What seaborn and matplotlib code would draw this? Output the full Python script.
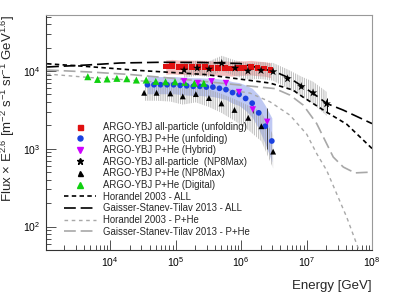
import numpy as np
import pandas as pd
import matplotlib
matplotlib.use('Agg')
import matplotlib.pyplot as plt
import seaborn as sns
from matplotlib.lines import Line2D
from matplotlib.ticker import LogLocator, NullFormatter, FixedLocator, FixedFormatter

sns.set_style('ticks')
plt.rcParams['font.family'] = ['Liberation Sans', 'DejaVu Sans']
plt.rcParams['mathtext.fontset'] = 'custom'
plt.rcParams['mathtext.rm'] = 'Liberation Sans'
plt.rcParams['mathtext.it'] = 'Liberation Sans:italic'
plt.rcParams['mathtext.bf'] = 'Liberation Sans:bold'
plt.rcParams['hatch.linewidth'] = 0.45
plt.rcParams['lines.scale_dashes'] = False

# ---------------- data ----------------
# ARGO-YBJ all-particle (unfolding)
red_E = [70800, 89100, 112000, 141000, 178000, 224000, 282000, 355000, 447000,
         562000, 708000, 891000, 1120000, 1410000, 1780000, 2240000, 2820000]
red_F = [11400, 11600, 11300, 11300, 11300, 11200, 11200, 11000, 11000,
         11000, 10800, 11000, 11000, 11200, 10900, 10800, 10300]
red_hi = [13900, 14100, 13800, 13800, 13800, 13700, 13700, 13500, 13500,
          13500, 13300, 13500, 13500, 13700, 13400, 13200, 12700]
red_lo = [9100, 9200, 9000, 9000, 9000, 8900, 8900, 8800, 8800,
          8800, 8600, 8800, 8800, 8900, 8700, 8600, 8200]

# ARGO-YBJ P+He (unfolding)
blue_E = [37150, 46770, 58880, 74130, 93330, 117500, 147900, 186200, 234400, 295100,
          371500, 467700, 588800, 741300, 933300, 1175000, 1479000, 1862000, 2344000, 2951000]
blue_F = [6660, 6660, 6660, 6660, 6660, 6530, 6450, 6350, 6350, 6220,
          6220, 5990, 5770, 5280, 5000, 4440, 3860, 2900, 1950, 1260]
blue_hi = [8500, 8500, 8500, 8500, 8500, 8400, 8300, 8200, 8200, 8100,
           8100, 7900, 7700, 7300, 7100, 6600, 6000, 4900, 3600, 2500]
blue_lo = [5100, 5100, 5100, 5100, 5100, 5000, 4900, 4850, 4850, 4750,
           4700, 4500, 4300, 3850, 3600, 3100, 2550, 1800, 1150, 680]

# ARGO-YBJ P+He (Hybrid)
mag_E = [135000, 219000, 355000, 589000, 933000, 1510000, 2510000]
mag_F = [7360, 7000, 7360, 7000, 5360, 3200, 2220]
mag_lo = [6900, 6550, 6900, 6550, 4900, 2900, 1000]
mag_hi = [7850, 7450, 7850, 7450, 5850, 3500, 3300]

# ARGO-YBJ all-particle (NP8Max)
star_E = [135000, 214000, 324000, 507000, 813000, 1274000, 2018000, 3090000,
          5130000, 8320000, 12590000, 20320000]
star_F = [10300, 10900, 10600, 12600, 10900, 10000, 10150, 9800, 7960, 6310, 5250, 3790]
star_hi = [12800, 13600, 13300, 15700, 13700, 12700, 13000, 12700, 10500, 8500, 7300, 5400]
star_lo = [8200, 8700, 8400, 10000, 8600, 7800, 7900, 7500, 6000, 4700, 3800, 2650]
star_elo = [10000, 10600, 10300, 12200, 10600, 9700, 9850, 9500, 7700, 6050, 4950, 2900]
star_ehi = [10600, 11200, 10900, 13000, 11200, 10300, 10450, 10100, 8250, 6600, 5550, 4500]

# ARGO-YBJ P+He (NP8Max)
tri_E = [33110, 51290, 83180, 128800, 204200, 323600, 501200, 794300, 1288000, 2042000, 3090000]
tri_F = [5250, 5250, 5150, 4720, 5050, 4490, 3830, 3160, 2500, 1950, 920]
tri_hi = [6600, 6600, 6500, 6000, 6400, 5800, 5100, 4350, 3600, 3000, 1500]
tri_lo = [4150, 4150, 4050, 3700, 3950, 3450, 2900, 2300, 1750, 1250, 560]

# ARGO-YBJ P+He (Digital)
grn_E = [4570, 6440, 9000, 12700, 18000, 25200, 35600, 49900, 70300, 98200, 138000, 194000, 270000]
grn_F = [8450, 7800, 7900, 8050, 7960, 7660, 7660, 7360, 7280, 7280, 7150, 6950, 6950]
grn_err = [0, 0, 0, 0, 0, 0, 0, 0, 0, 250, 300, 450, 500]

# Model curves (read at points along the curves)
hor_all_E = [1090, 4460, 28700, 282000, 2770000, 6220000, 8850000, 20300000, 41100000, 100000000]
hor_all_F = [12400, 11430, 10150, 9020, 7000, 5690, 4620, 2960, 2070, 1010]

gst_all_E = [1090, 4460, 14200, 57900, 237000, 966000, 3300000, 5600000, 12700000, 20300000, 36500000, 100000000]
gst_all_F = [11270, 11950, 12680, 12950, 12880, 12490, 9790, 8050, 5150, 3830, 3140, 2110]

hor_phe_E = [1090, 4950, 20200, 82400, 336000, 1370000, 2770000, 5600000, 10070000,
             14300000, 20300000, 28900000, 41100000, 58300000, 65600000]
hor_phe_F = [9150, 8240, 7650, 7000, 6220, 5200, 4020, 2700, 1540, 867, 528, 264, 132, 59.8, 46]

gst_phe_E = [1090, 4950, 20200, 82400, 336000, 1370000, 3300000, 5600000, 8930000,
             14300000, 25600000, 36500000, 54900000, 100000000]
gst_phe_F = [10300, 9710, 9020, 8120, 7220, 6400, 5940, 4900, 3640, 2110, 783, 582, 490, 502]

legend_labels = ['ARGO-YBJ all-particle (unfolding)', 'ARGO-YBJ P+He (unfolding)',
                 'ARGO-YBJ P+He (Hybrid)', 'ARGO-YBJ all-particle  (NP8Max)',
                 'ARGO-YBJ P+He (NP8Max)', 'ARGO-YBJ P+He (Digital)',
                 'Horandel 2003 - ALL', 'Gaisser-Stanev-Tilav 2013 - ALL',
                 'Horandel 2003 - P+He', 'Gaisser-Stanev-Tilav 2013 - P+He']

# ---------------- figure ----------------
fig = plt.figure(figsize=(4.07, 2.94), dpi=100)
ax = fig.add_axes([46/407, 1-250/294, (372-46)/407, (250-15)/294])
ax.set_xscale('log')
ax.set_yscale('log')

c_red = '#e01010'
c_blue = '#1a40e0'
c_mag = '#d000ff'
c_grn = '#10d010'
c_gray = '#a8a8a8'
c_hatch = '#a0a0a0'

# bands
ax.fill_between(red_E, red_lo, red_hi, color='#f0b0b0', alpha=0.8, lw=0, zorder=1)
ax.fill_between(blue_E, blue_lo, blue_hi, color='#b0bcf0', alpha=0.8, lw=0, zorder=1)
ax.fill_between(tri_E, tri_lo, tri_hi, facecolor='none', edgecolor=c_hatch,
                hatch='|||||||||', lw=0, zorder=2)
ax.fill_between(star_E, star_lo, star_hi, facecolor='none', edgecolor=c_hatch,
                hatch='|||||||||', lw=0, zorder=2)

# model curves
curves = [
    (hor_all_E, hor_all_F, 'k', 1.2, (0, (3.2, 2.4))),
    (gst_all_E, gst_all_F, 'k', 1.2, (0, (8.5, 3.5))),
    (hor_phe_E, hor_phe_F, c_gray, 1.0, (0, (2.6, 2.6))),
    (gst_phe_E, gst_phe_F, c_gray, 1.2, (0, (8.5, 3.5))),
]
for cE, cF, col, lw, ls in curves:
    df = pd.DataFrame({'E': cE, 'F': cF})
    sns.lineplot(data=df, x='E', y='F', ax=ax, color=col, lw=lw, linestyle=ls,
                 sort=False, estimator=None, zorder=3)

# error bars
ax.errorbar(mag_E, mag_F, yerr=[np.array(mag_F) - np.array(mag_lo), np.array(mag_hi) - np.array(mag_F)],
            fmt='none', ecolor='#404040', elinewidth=0.7, zorder=4)
ax.errorbar(star_E, star_F, yerr=[np.array(star_F) - np.array(star_elo), np.array(star_ehi) - np.array(star_F)],
            fmt='none', ecolor='k', elinewidth=0.7, zorder=4)
ax.errorbar(grn_E, grn_F, yerr=grn_err, fmt='none', ecolor=c_grn, elinewidth=0.7, zorder=4)

# points
sns.scatterplot(x=red_E, y=red_F, ax=ax, marker='s', color=c_red, s=17, edgecolor='none', zorder=5)
sns.scatterplot(x=star_E, y=star_F, ax=ax, marker='*', color='k', s=40, edgecolor='none', zorder=6)
sns.scatterplot(x=blue_E, y=blue_F, ax=ax, marker='o', color=c_blue, s=17, edgecolor='none', zorder=6)
sns.scatterplot(x=tri_E, y=tri_F, ax=ax, marker='^', color='k', s=18, edgecolor='none', zorder=6)
sns.scatterplot(x=mag_E, y=mag_F, ax=ax, marker='v', color=c_mag, s=22, edgecolor='none', zorder=7)
sns.scatterplot(x=grn_E, y=grn_F, ax=ax, marker='^', color=c_grn, s=26, edgecolor='none', zorder=6)

ax.set_xlim(1050, 1e8)
ax.set_ylim(50, 52500)

# ticks
ax.xaxis.set_major_locator(FixedLocator([1e4, 1e5, 1e6, 1e7, 1e8]))
ax.xaxis.set_major_formatter(FixedFormatter([r'$10^{4}$', r'$10^{5}$', r'$10^{6}$', r'$10^{7}$', r'$10^{8}$']))
ax.xaxis.set_minor_locator(LogLocator(base=10, subs=np.arange(2, 10), numticks=20))
ax.xaxis.set_minor_formatter(NullFormatter())
ax.yaxis.set_major_locator(FixedLocator([1e2, 1e3, 1e4]))
ax.yaxis.set_major_formatter(FixedFormatter([r'$10^{2}$', r'$10^{3}$', r'$10^{4}$']))
ax.yaxis.set_minor_locator(LogLocator(base=10, subs=np.arange(2, 10), numticks=20))
ax.yaxis.set_minor_formatter(NullFormatter())
ax.tick_params(which='both', direction='in', top=False, right=False, colors='#333333',
               labelcolor='k', labelsize=7.5, width=0.6)
ax.tick_params(which='major', length=7, pad=4)
ax.tick_params(which='minor', length=3.5)

for side in ['top', 'right']:
    ax.spines[side].set_color('#999999')
for side in ['left', 'bottom']:
    ax.spines[side].set_color('#333333')
for sp in ax.spines.values():
    sp.set_linewidth(0.8)

ax.set_xlabel('Energy [GeV]', loc='right', fontsize=9.5, labelpad=8)
ax.set_ylabel(r'Flux $\times$ E$^{2.6}$ [m$^{-2}$ s$^{-1}$ sr$^{-1}$ GeV$^{1.6}$]',
              loc='top', fontsize=9.5, labelpad=4)

# legend
handles = [
    Line2D([], [], ls='none', marker='s', color=c_red, ms=3.6),
    Line2D([], [], ls='none', marker='o', color=c_blue, ms=3.6),
    Line2D([], [], ls='none', marker='v', color=c_mag, ms=4.2),
    Line2D([], [], ls='none', marker='*', color='k', ms=4.5),
    Line2D([], [], ls='none', marker='^', color='k', ms=3.6),
    Line2D([], [], ls='none', marker='^', color=c_grn, ms=4.0),
    Line2D([], [], color='k', lw=1.2, ls=(0, (3.2, 2.4))),
    Line2D([], [], color='k', lw=1.2, ls=(0, (8.5, 3.5))),
    Line2D([], [], color=c_gray, lw=1.0, ls=(0, (2.6, 2.6))),
    Line2D([], [], color=c_gray, lw=1.2, ls=(0, (8.5, 3.5))),
]
leg = ax.legend(handles, legend_labels, loc='upper left', bbox_to_anchor=(0.055, 0.545),
                frameon=False, fontsize=6.9, handlelength=3.3, handletextpad=0.75,
                labelspacing=0.17, borderpad=0, borderaxespad=0)
leg.set_zorder(10)

fig.savefig('out.png', dpi=100)
